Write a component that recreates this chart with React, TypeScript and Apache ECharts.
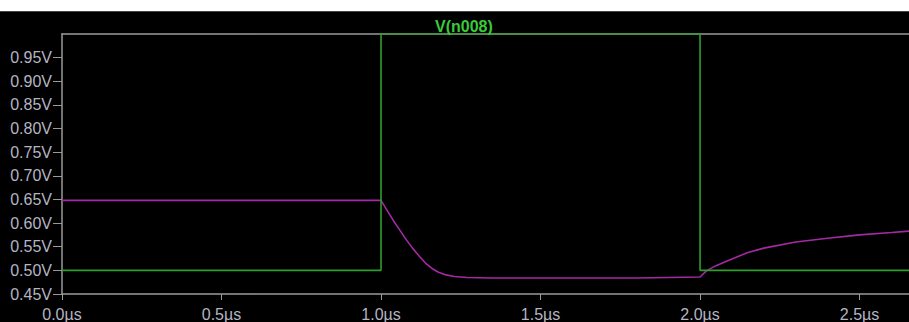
import React, { useEffect, useRef } from "react";
import * as echarts from "echarts";

const title = "V(n008)";
const xMax = 2.655;
const greenT = [0, 1.0, 1.0, 2.0, 2.0, 2.655];
const greenV = [0.5, 0.5, 1.0, 1.0, 0.5, 0.5];
const magT = [0, 1.0, 1.02, 1.04, 1.06, 1.08, 1.1, 1.12, 1.14, 1.16, 1.18, 1.2, 1.23, 1.27, 1.35, 1.5, 1.8, 2.0, 2.02, 2.05, 2.1, 2.15, 2.2, 2.3, 2.4, 2.5, 2.6, 2.655];
const magV = [0.648, 0.648, 0.626, 0.604, 0.584, 0.564, 0.546, 0.53, 0.515, 0.504, 0.496, 0.491, 0.487, 0.485, 0.484, 0.484, 0.484, 0.486, 0.499, 0.51, 0.524, 0.538, 0.547, 0.56, 0.568, 0.575, 0.58, 0.583];

const pairs = (t: number[], v: number[]) => t.map((x, i) => [x, v[i]]);

export default function App() {
  const ref = useRef<HTMLDivElement>(null);
  useEffect(() => {
    document.body.style.margin = "0";
    const chart = echarts.init(ref.current!, null, { renderer: "svg" });
    const labelStyle = {
      color: "#b4b4c2",
      fontSize: 16,
      fontWeight: "normal" as const,
      fontFamily: "Liberation Sans, Arial, sans-serif",
    };
    chart.setOption({
      animation: false,
      backgroundColor: "#000000",
      title: {
        text: title,
        left: 430,
        top: 1,
        textStyle: { color: "#3cc83c", fontSize: 16, fontWeight: "bold", fontFamily: "Liberation Sans, Arial, sans-serif" },
      },
      grid: { left: 62, right: 0, top: 22, bottom: 25, containLabel: false },
      xAxis: [
        {
          type: "value",
          min: 0,
          max: xMax,
          interval: 0.5,
          position: "bottom",
          axisLine: { lineStyle: { color: "#9a9a9a", width: 1.5 } },
          axisTick: { show: true, length: 6, lineStyle: { color: "#9a9a9a" } },
          splitLine: { show: false },
          axisLabel: {
            ...labelStyle,
            margin: 12,
            showMaxLabel: false,
            formatter: (v: number) => v.toFixed(1) + "µs",
          },
        },
        {
          type: "value",
          min: 0,
          max: xMax,
          position: "top",
          axisLine: { lineStyle: { color: "#9a9a9a", width: 1.5 } },
          axisTick: { show: false },
          axisLabel: { show: false },
          splitLine: { show: false },
        },
      ],
      yAxis: {
        type: "value",
        min: 0.45,
        max: 1.0,
        interval: 0.05,
        axisLine: { show: true, lineStyle: { color: "#9a9a9a", width: 1.5 } },
        axisTick: { show: true, length: 9, lineStyle: { color: "#9a9a9a" } },
        splitLine: { show: false },
        axisLabel: {
          ...labelStyle,
          margin: 10,
          showMaxLabel: false,
          formatter: (v: number) => v.toFixed(2) + "V",
        },
      },
      series: [
        {
          type: "line",
          data: pairs(magT, magV),
          showSymbol: false,
          smooth: false,
          lineStyle: { color: "#a42aa4", width: 1.6 },
          z: 3,
        },
        {
          type: "line",
          data: pairs(greenT, greenV),
          showSymbol: false,
          lineStyle: { color: "#2f9e2f", width: 1.6 },
          z: 4,
        },
      ],
    });
    return () => chart.dispose();
  }, []);
  return (
    <div style={{ position: "absolute", left: 0, top: 0, width: 909, height: 322, background: "#ffffff" }}>
      <div
        ref={ref}
        style={{ position: "absolute", left: 0, top: 11, width: 909, height: 311, borderTop: "1px solid #444", boxSizing: "border-box" }}
      />
    </div>
  );
}
